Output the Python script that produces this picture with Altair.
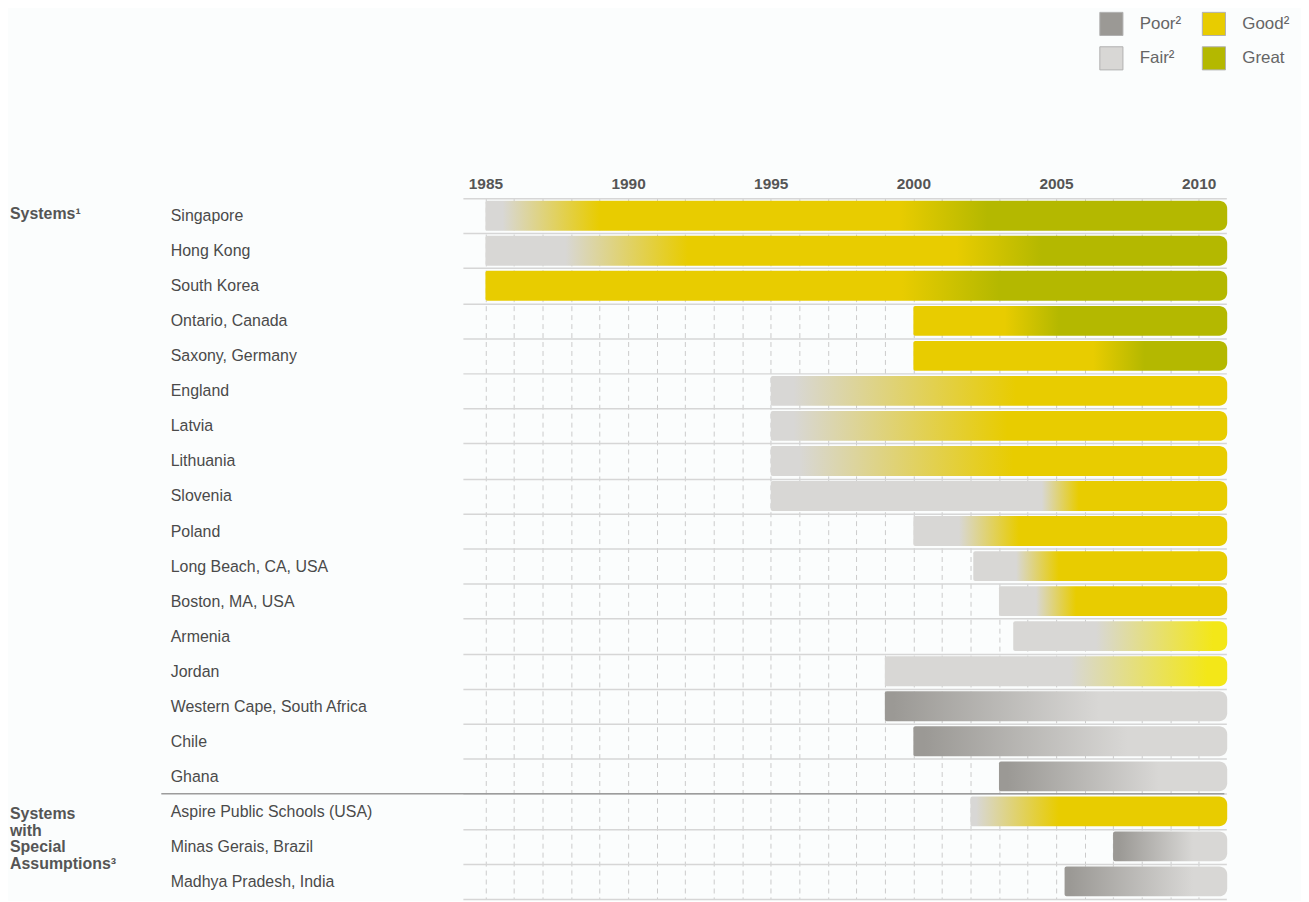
import altair as alt
import pandas as pd

# ---------------- data ----------------
systems = [
    "Singapore", "Hong Kong", "South Korea", "Ontario, Canada", "Saxony, Germany",
    "England", "Latvia", "Lithuania", "Slovenia", "Poland",
    "Long Beach, CA, USA", "Boston, MA, USA", "Armenia", "Jordan",
    "Western Cape, South Africa", "Chile", "Ghana",
    "Aspire Public Schools (USA)", "Minas Gerais, Brazil", "Madhya Pradesh, India",
]
start_year = [1985, 1985, 1985, 2000, 2000,
              1995, 1995, 1995, 1995, 2000,
              2002.1, 2003, 2003.5, 1999,
              1999, 2000, 2003,
              2002, 2007, 2005.3]
end_year = [2011] * len(systems)

# performance level transitions: (year, level)
transitions = [
    [(1985.6, "Fair"), (1989.0, "Good"), (1999.5, "Good"), (2002.6, "Great")],
    [(1987.8, "Fair"), (1992.1, "Good"), (2001.5, "Good"), (2004.5, "Great")],
    [(1999.6, "Good"), (2003.0, "Great")],
    [(2003.2, "Good"), (2005.1, "Great")],
    [(2006.3, "Good"), (2008.1, "Great")],
    [(1995.8, "Fair"), (2003.6, "Good")],
    [(1995.8, "Fair"), (2003.3, "Good")],
    [(1996.0, "Fair"), (2003.5, "Good")],
    [(2004.5, "Fair"), (2005.8, "Good")],
    [(2001.6, "Fair"), (2003.7, "Good")],
    [(2003.6, "Fair"), (2005.1, "Good")],
    [(2004.3, "Fair"), (2005.7, "Good")],
    [(2006.4, "Fair"), (2010.5, "Rising")],
    [(2005.5, "Fair"), (2010.3, "Rising")],
    [(1999.3, "Poor"), (2006.5, "Fair")],
    [(2000.4, "Poor"), (2007.5, "Fair")],
    [(2003.3, "Poor"), (2008.6, "Fair")],
    [(2002.2, "Fair"), (2005.1, "Good")],
    [(2007.2, "Poor"), (2009.8, "Fair")],
    [(2005.5, "Poor"), (2009.8, "Fair")],
]

level_colors = {
    "Poor": "#9b9995",
    "Fair": "#d8d7d5",
    "Good": "#e8cc00",
    "Great": "#b4b800",
    "Rising": "#f3e718",
}

legend_labels = ["Poor²", "Fair²", "Good²", "Great"]
legend_colors = [level_colors["Poor"], level_colors["Fair"],
                 level_colors["Good"], level_colors["Great"]]

year_ticks = list(range(1985, 2011))

group_labels = ["Systems¹", "Systems\nwith\nSpecial\nAssumptions³"]
group_rows = ["Singapore", "Aspire Public Schools (USA)"]

FONT = "Liberation Sans"

# ---------------- tables ----------------
bars = pd.DataFrame({"system": systems, "start": start_year, "end": end_year})
legend_df = pd.DataFrame({"level": legend_labels, "year": [1985] * 4, "system": ["Singapore"] * 4})
sep_df = pd.DataFrame({"system": ["Aspire Public Schools (USA)"]})

W, H = 767, 704

x_scale = alt.Scale(domain=[1984.21, 2010.97], nice=False, zero=False)
y_scale = alt.Scale(domain=systems, paddingInner=0, paddingOuter=0)

x_axis = alt.Axis(
    orient="top", values=year_ticks, tickCount=40, title=None,
    labelExpr="datum.value % 5 == 0 ? '' + datum.value : ''",
    labelOverlap=False, labelFont=FONT, labelFontSize=15.5, labelFontWeight="bold",
    labelColor="#555555", labelPadding=7, ticks=False, domain=False,
    grid=True, gridColor="#cbcbcb", gridDash=[5, 4], gridWidth=1,
)
y_axis = alt.Axis(
    title=None, labelAlign="left", labelPadding=294, tickSize=0, ticks=False,
    domain=False, labelFont=FONT, labelFontSize=16, labelColor="#4a4a4a",
    labelLimit=320, grid=True, gridColor="#d6d6d6", gridWidth=1.5,
    tickBand="extent",
)


def gradient_for(i):
    s, e = start_year[i], end_year[i]
    stops = []
    for yr, lvl in transitions[i]:
        off = max(0.0, min(1.0, (yr - s) / (e - s)))
        stops.append({"offset": off, "color": level_colors[lvl]})
    if len(stops) == 1:
        stops.append({"offset": 1, "color": stops[0]["color"]})
    return {"gradient": "linear", "x1": 0, "y1": 0, "x2": 1, "y2": 0, "stops": stops}


base = alt.Chart(bars)
bar_style = dict(height=30, cornerRadiusTopLeft=2, cornerRadiusBottomLeft=2,
                 cornerRadiusTopRight=8, cornerRadiusBottomRight=8)

layers = []
for i in range(len(systems)):
    enc_x = alt.X("start:Q", scale=x_scale, axis=x_axis) if i == 0 else alt.X("start:Q", scale=x_scale)
    enc_y = alt.Y("system:N", scale=y_scale, sort=systems, axis=y_axis) if i == 0 else \
        alt.Y("system:N", scale=y_scale, sort=systems)
    layers.append(
        base.transform_filter(alt.datum.system == systems[i])
        .mark_bar(fill=gradient_for(i), **bar_style)
        .encode(x=enc_x, x2="end:Q", y=enc_y)
    )

separator = alt.Chart(sep_df).mark_rule(color="#9c9c9c", strokeWidth=1.5).encode(
    y=alt.Y("system:N", scale=y_scale, sort=systems, bandPosition=0),
    x=alt.value(-303), x2=alt.value(W - 2),
)

text_style = dict(align="left", baseline="top", font=FONT, fontSize=16,
                  fontWeight="bold", color="#555555", lineBreak="\n", lineHeight=16.5)
group1 = alt.Chart(pd.DataFrame({"label": [group_labels[0]], "system": [group_rows[0]]})).mark_text(
    dy=-10, **text_style
).encode(y=alt.Y("system:N", scale=y_scale, sort=systems), x=alt.value(-455), text="label:N")
group2 = alt.Chart(pd.DataFrame({"label": [group_labels[1]], "system": [group_rows[1]]})).mark_text(
    dy=-5, **text_style
).encode(y=alt.Y("system:N", scale=y_scale, sort=systems), x=alt.value(-455), text="label:N")

legend_layer = alt.Chart(legend_df).mark_square(opacity=0, size=1).encode(
    x=alt.X("year:Q", scale=x_scale),
    y=alt.Y("system:N", scale=y_scale, sort=systems),
    color=alt.Color(
        "level:N",
        scale=alt.Scale(domain=legend_labels, range=legend_colors),
        legend=alt.Legend(
            title=None, orient="none", legendX=639, legendY=-188, columns=2,
            symbolType="square", symbolSize=540, symbolOpacity=1,
            symbolStrokeColor="#b0b0b0", symbolStrokeWidth=1,
            labelFont=FONT, labelFontSize=17, labelColor="#666666",
            labelOffset=16, columnPadding=18, rowPadding=6,
        ),
    ),
)

chart = alt.layer(*layers, separator, group1, group2, legend_layer).properties(
    width=W, height=H,
    autosize=alt.AutoSizeParams(type="none"),
    padding={"left": 457, "top": 189, "right": 75, "bottom": 0},
    background="#fbfdfd",
).configure_view(stroke=None)

chart.save("out.html", embed_options={"renderer": "svg", "actions": False})
